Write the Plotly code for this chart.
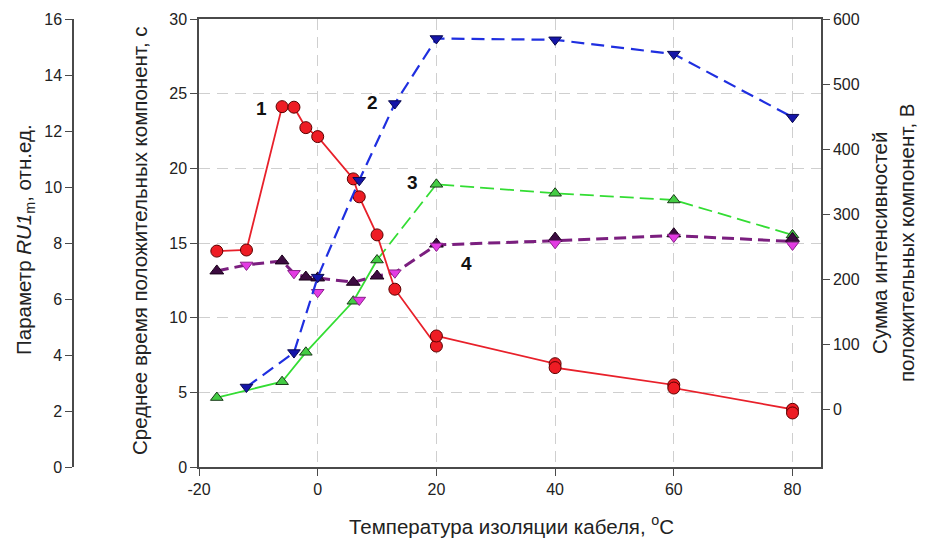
import plotly.graph_objects as go

# ---------------- data ----------------
# Series 1 (red circles) -> parameter RU1m, rel. units (far-left axis)
t1 = [-17, -12, -6, -4, -2, 0, 6, 7, 10, 13, 20, 20, 40, 40, 60, 60, 80, 80]
v1 = [7.71, 7.75, 12.87, 12.85, 12.12, 11.80, 10.29, 9.65, 8.29, 6.35,
      4.32, 4.68, 3.69, 3.55, 2.93, 2.82, 2.06, 1.93]

# Series 2 (blue down-triangles) -> sum of intensities, V (right axis)
t2 = [-12, -4, 0, 7, 13, 20, 40, 60, 80]
v2 = [34, 87, 203, 352, 470, 570, 568, 546, 449]

# Series 3 (green triangles) -> mean time, s (inner left axis)
t3 = [-17, -6, -2, 6, 10, 20, 40, 60, 80]
v3 = [4.65, 5.71, 7.68, 11.1, 13.86, 18.93, 18.33, 17.88, 15.54]

# Series 4 (purple) -> mean time, s
t4_up = [-17, -6, -2, 0, 6, 10, 20, 40, 60, 80]
v4_up = [13.13, 13.8, 12.72, 12.66, 12.37, 12.79, 14.93, 15.33, 15.62, 15.31]
t4_dn = [-12, -4, 0, 7, 13, 20, 40, 60, 80]
v4_dn = [13.53, 12.97, 11.70, 11.18, 13.01, 14.8, 14.98, 15.40, 14.87]
t4_line = [-17, -12, -6, -4, -2, 0, 6, 10, 13, 20, 40, 60, 80]
v4_line = [13.13, 13.53, 13.8, 12.97, 12.72, 12.66, 12.37, 12.79, 13.01, 14.87, 15.15, 15.5, 15.1]

x_ticks = [-20, 0, 20, 40, 60, 80]
x_ticklabels = ["-20", "0", "20", "40", "60", "80"]
ru_ticks = [0, 2, 4, 6, 8, 10, 12, 14, 16]
s_ticks = [0, 5, 10, 15, 20, 25, 30]
b_ticks = [0, 100, 200, 300, 400, 500, 600]

FONT = "Liberation Sans, Arial, sans-serif"
AX = "#4a4a4a"

fig = go.Figure()

# Series 3 green: solid part then dashed part
split = t3.index(10)
fig.add_trace(go.Scatter(x=t3[:split + 1], y=v3[:split + 1], yaxis="y", mode="lines",
                         line=dict(color="#33dd33", width=1.8)))
fig.add_trace(go.Scatter(x=t3[split:], y=v3[split:], yaxis="y", mode="lines",
                         line=dict(color="#33dd33", width=1.8, dash="14px,6px")))
fig.add_trace(go.Scatter(x=t3, y=v3, yaxis="y", mode="markers",
                         marker=dict(symbol="triangle-up", size=11, color="#44cc44",
                                     line=dict(color="#1a3a1a", width=1))))

# Series 4 purple
fig.add_trace(go.Scatter(x=t4_line, y=v4_line, yaxis="y", mode="lines",
                         line=dict(color="#7b1f7f", width=3, dash="12px,6px")))
fig.add_trace(go.Scatter(x=t4_up, y=v4_up, yaxis="y", mode="markers",
                         marker=dict(symbol="triangle-up", size=12, color="#3c0b40",
                                     line=dict(color="#1a001a", width=1))))
fig.add_trace(go.Scatter(x=t4_dn, y=v4_dn, yaxis="y", mode="markers",
                         marker=dict(symbol="triangle-down", size=11, color="#e33be3",
                                     line=dict(color="#8a208a", width=1))))

# Series 2 blue (right axis)
fig.add_trace(go.Scatter(x=t2, y=v2, yaxis="y3", mode="lines+markers",
                         line=dict(color="#1f2fe0", width=2.2, dash="13px,7px"),
                         marker=dict(symbol="triangle-down", size=11, color="#1515a8",
                                     line=dict(color="#0a0a50", width=1))))

# Series 1 red (far-left axis)
fig.add_trace(go.Scatter(x=t1, y=v1, yaxis="y2", mode="lines+markers",
                         line=dict(color="#e8202a", width=1.8),
                         marker=dict(symbol="circle", size=12, color="#ee1c24",
                                     line=dict(color="#5a0000", width=1))))

L, R = 10, 10
W = 928
pw = W - L - R


def px(xp):
    return (xp - L) / pw


def py(yp):
    return (467 - yp) / 448


axis_common = dict(showline=True, linecolor=AX, linewidth=1.5, ticks="outside",
                   ticklen=7, tickcolor=AX, tickwidth=1.3, automargin=False,
                   tickfont=dict(family=FONT, size=16, color="#222"), zeroline=False)

fig.update_layout(
    template="none",
    width=928, height=544,
    margin=dict(l=L, r=R, t=19, b=77, autoexpand=False),
    plot_bgcolor="white", paper_bgcolor="white",
    showlegend=False,
    xaxis=dict(domain=[px(199), px(821)], range=[-20, 84.8], tickvals=x_ticks,
               ticktext=x_ticklabels,
               mirror=True, showgrid=True, gridcolor="#cfcfcf", gridwidth=1.2,
               griddash="11px,7px", **axis_common),
    yaxis=dict(range=[0, 30], tickvals=s_ticks, anchor="x", side="left",
               showgrid=True, gridcolor="#cfcfcf", gridwidth=1.2, griddash="11px,7px",
               **axis_common),
    yaxis2=dict(range=[0, 16], tickvals=ru_ticks, overlaying="y", anchor="free",
                position=px(73), side="left", showgrid=False, **axis_common),
    yaxis3=dict(range=[-89, 600], tickvals=b_ticks, overlaying="y", anchor="x",
                side="right", showgrid=False, **axis_common),
)

title_font = dict(family=FONT, size=20.5, color="#222")
ann = [
    dict(text="Параметр <i>RU1</i><sub>m</sub>, отн.ед.", x=px(25), y=py(240),
         textangle=-90),
    dict(text="Среднее время положительных компонент, с", x=px(139), y=py(241),
         textangle=-90),
    dict(text="Сумма интенсивностей<br>положительных компонент, В", x=px(893), y=py(243),
         textangle=-90),
    dict(text="Температура изоляции кабеля, <sup>o</sup>C", x=px(511), y=py(525)),
]
for a in ann:
    fig.add_annotation(xref="paper", yref="paper", showarrow=False,
                       xanchor="center", yanchor="middle", font=title_font, **a)

label_font = dict(family=FONT, size=19, color="#111")
for txt, xv, yv in [("<b>1</b>", -9.4, 24.04), ("<b>2</b>", 9.3, 24.38),
                    ("<b>3</b>", 16.0, 19.02), ("<b>4</b>", 25.1, 13.66)]:
    fig.add_annotation(x=xv, y=yv, xref="x", yref="y", text=txt, showarrow=False,
                       font=label_font)

fig.write_html("out.html", config={"displayModeBar": False},
               post_script="document.body.style.margin='0px';document.body.style.padding='0px';")
